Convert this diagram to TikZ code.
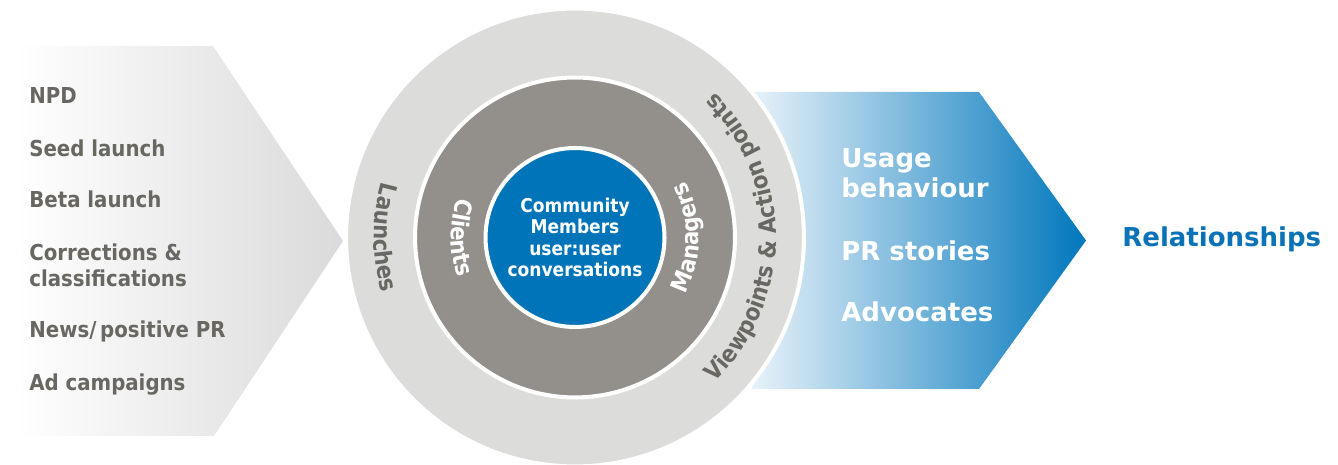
\documentclass[tikz,border=0pt]{standalone}
\usepackage{fontspec}
\setmainfont{DejaVu Sans}
\newfontfamily\narrowfont{DejaVu Sans Condensed}
\usetikzlibrary{decorations.text}

\definecolor{listgrey}{RGB}{104,103,98}
\definecolor{ringlight}{RGB}{220,220,219}
\definecolor{ringdark}{RGB}{147,143,139}
\definecolor{coreblue}{RGB}{0,116,184}
\definecolor{flowpale}{RGB}{232,242,249}
\definecolor{flowblue}{RGB}{0,119,188}
\definecolor{inputgrey}{RGB}{218,218,218}
\definecolor{relblue}{RGB}{10,114,182}

\newcommand\ringfont{\narrowfont\fontsize{13.4}{15}\selectfont\bfseries}

\begin{document}
\begin{tikzpicture}[x=0.02cm, y=0.02cm,
    item/.style={anchor=base west, inner sep=0pt, text=listgrey, align=left,
                 font=\narrowfont\fontsize{12.5}{14.8}\selectfont\bfseries},
    result/.style={anchor=base west, inner sep=0pt, text=white, align=left,
                   font=\fontsize{14.8}{17.6}\selectfont\bfseries},
    disc/.style={circle, draw=white, line width=2.3pt, inner sep=0pt},
    ringtext/.style={decorate, decoration={text along path, text align=center, text={#1}}}
]
\useasboundingbox (0,0) rectangle (1338,465);

% input arrow
\shade[left color=white, right color=inputgrey]
  (15,419) -- (213,419) -- (343,224) -- (214,29) -- (15,29) -- cycle;

\node[item] (npd)  at (29,361) {NPD};
\node[item] (seed) at (29,308) {Seed launch};
\node[item] (beta) at (29,257) {Beta launch};
\node[item] (corr) at (29,178) {Corrections \&\\classifications};
\node[item] (news) at (29,127) {News/\,positive PR};
\node[item] (ads)  at (29,74)  {Ad campaigns};

% output arrow
\shade[left color=flowpale, right color=flowblue]
  (752,373) -- (979,373) -- (1086,224.5) -- (979,76) -- (752,76) -- cycle;

\node[result] (usage)    at (841,267) {Usage\\behaviour};
\node[result] (stories)  at (841,204) {PR stories};
\node[result] (advocate) at (841,143) {Advocates};

\node[anchor=base west, inner sep=0pt, text=relblue, font=\fontsize{14.8}{17.6}\selectfont\bfseries]
  (rel) at (1122,218) {Relationships};

% rings
\node[disc, fill=ringlight, minimum size=9.16cm] (outer) at (575,227.5) {};
\node[disc, fill=ringdark, minimum size=6.4cm] (middle) at (575,227.5) {};
\node[disc, fill=coreblue, minimum size=3.58cm, text=white, align=center,
      font=\narrowfont\fontsize{10.8}{12.1}\selectfont\bfseries] (core) at (575,227.5)
  {Community\\Members\\user:user\\conversations};

% ring labels
\path[ringtext={|\ringfont\color{listgrey}|Launches}]
  ([shift={(150:201)}]outer.center) arc[start angle=150, end angle=210, radius=201];
\path[ringtext={|\ringfont\color{listgrey}|Viewpoints {\&} Action points}]
  ([shift={(-65:201)}]outer.center) arc[start angle=-65, end angle=65, radius=201];
\path[ringtext={|\ringfont\color{white}|Clients}]
  ([shift={(140:124)}]middle.center) arc[start angle=140, end angle=220, radius=124];
\path[ringtext={|\ringfont\color{white}|Managers}]
  ([shift={(-40:124)}]middle.center) arc[start angle=-40, end angle=40, radius=124];

\end{tikzpicture}
\end{document}
